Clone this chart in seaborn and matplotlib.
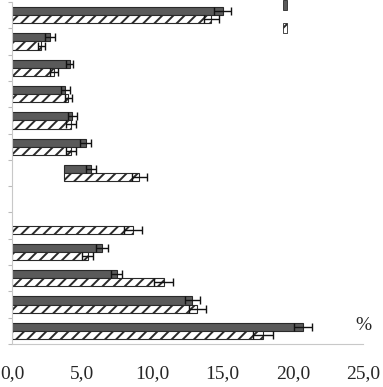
import numpy as np
import pandas as pd
import matplotlib
matplotlib.use("Agg")
import matplotlib.pyplot as plt
import seaborn as sns
from matplotlib.patches import Patch
from matplotlib.ticker import FixedLocator

categories = [f"G{i}" for i in range(1, 14)]
series_names = ["A", "B"]
dark_vals = [15.0, 2.7, 4.1, 3.8, 4.3, 5.25, 5.65, np.nan, np.nan, 6.4, 7.45, 12.85, 20.7]
dark_err = [0.6, 0.35, 0.28, 0.3, 0.31, 0.4, 0.36, np.nan, np.nan, 0.45, 0.4, 0.55, 0.65]
hatch_vals = [14.2, 2.1, 3.0, 4.0, 4.2, 4.2, 9.05, np.nan, 8.6, 5.4, 10.8, 13.2, 17.9]
hatch_err = [0.55, 0.26, 0.28, 0.26, 0.36, 0.36, 0.53, np.nan, 0.65, 0.4, 0.7, 0.6, 0.7]
bar_starts = [0, 0, 0, 0, 0, 0, 3.7, 0, 0, 0, 0, 0, 0]
xticks = [0, 5, 10, 15, 20, 25]
xtick_labels = ["0,0", "5,0", "10,0", "15,0", "20,0", "25,0"]
unit_label = "%"

df = pd.DataFrame({
    "cat": categories * 2,
    "series": [series_names[0]] * len(categories) + [series_names[1]] * len(categories),
    "value": dark_vals + hatch_vals,
})
errs = {series_names[0]: dark_err, series_names[1]: hatch_err}
vals = {series_names[0]: dark_vals, series_names[1]: hatch_vals}

sns.set_style("white")
plt.rcParams["hatch.linewidth"] = 1.4
plt.rcParams["hatch.color"] = "#111111"

fig = plt.figure(figsize=(3.83, 3.87), dpi=100)
ax = fig.add_axes([12 / 383, 1 - 344 / 387, 351 / 383, 342 / 387])

sns.barplot(data=df, y="cat", x="value", hue="series", order=categories,
            hue_order=series_names, orient="h", width=0.62, errorbar=None,
            palette=["#5a5a5a", "white"], edgecolor="#2a2a2a", linewidth=0.8,
            legend=False, ax=ax)

for cont, s in zip(ax.containers, series_names):
    for p in cont.patches:
        w = p.get_width()
        if not np.isfinite(w) or w == 0:
            continue
        yc = p.get_y() + p.get_height() / 2
        i = int(round(yc))
        st = bar_starts[i]
        p.set_x(st)
        p.set_width(vals[s][i] - st)
        if s == series_names[1]:
            p.set_hatch("///")
        ax.errorbar(vals[s][i], yc, xerr=errs[s][i], fmt="none", ecolor="#111111",
                    elinewidth=1.0, capsize=2.9, capthick=1.0, zorder=5)

ax.set_xlim(0, 25)
ax.set_ylim(len(categories) - 0.5, -0.5)
ax.set_xticks(xticks)
ax.set_xticklabels(xtick_labels, fontfamily="Liberation Serif", fontsize=14)
ax.tick_params(axis="x", length=4, width=0.8, color="#bbbbbb", pad=11, direction="out")
ax.set_yticks([])
ax.yaxis.set_minor_locator(FixedLocator(np.arange(-0.5, len(categories), 1.0)))
ax.tick_params(axis="y", which="minor", length=3, width=0.8, color="#bbbbbb", left=True)
ax.set_xlabel("")
ax.set_ylabel("")
for side in ["top", "right"]:
    ax.spines[side].set_visible(False)
for side in ["left", "bottom"]:
    ax.spines[side].set_color("#c8c8c8")
    ax.spines[side].set_linewidth(0.8)

ax.text(1.0, 0.055, unit_label, transform=ax.transAxes, ha="center", va="center",
        fontfamily="Liberation Serif", fontsize=14)

handles = [Patch(facecolor="#5a5a5a", edgecolor="#2a2a2a", linewidth=0.6),
           Patch(facecolor="white", edgecolor="#2a2a2a", hatch="///", linewidth=0.6)]
ax.legend(handles, ["", ""], loc="upper left", bbox_to_anchor=(0.745, 1.035),
          frameon=False, handlelength=0.35, handleheight=1.0, labelspacing=1.1,
          fontsize=8, handletextpad=0)

fig.savefig("out.png", dpi=100)
